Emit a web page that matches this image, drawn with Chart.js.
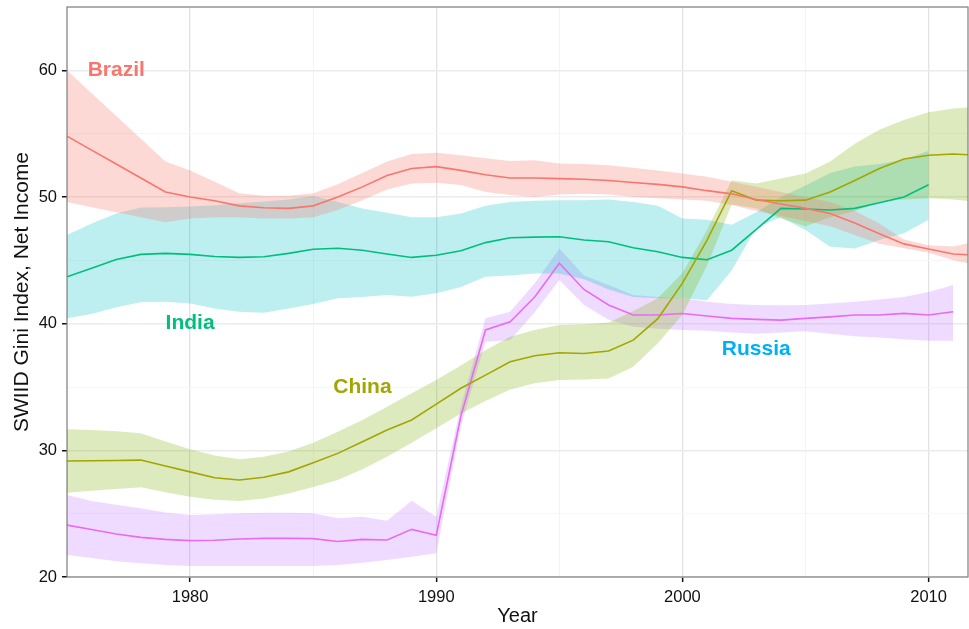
<!DOCTYPE html>
<html>
<head>
<meta charset="utf-8">
<script src="https://cdn.jsdelivr.net/npm/chart.js@4.4.1/dist/chart.umd.min.js"></script>
<style>
    html, body { margin: 0; padding: 0; background: #fff; }
    canvas { display: block; }
</style>
</head>
<body>
<canvas id="gini-chart" width="969" height="629"></canvas>
<script>
// Years on the x axis (annual estimates)
const years = [1975, 1976, 1977, 1978, 1979, 1980, 1981, 1982, 1983, 1984,
    1985, 1986, 1987, 1988, 1989, 1990, 1991, 1992, 1993, 1994,
    1995, 1996, 1997, 1998, 1999, 2000, 2001, 2002, 2003, 2004,
    2005, 2006, 2007, 2008, 2009, 2010, 2011, 2012];

// SWIID Gini (net income): estimate, upper and lower bound
const brazil = [54.8, 53.7, 52.6, 51.5, 50.4, 50.0, 49.7, 49.3, 49.15, 49.1,
    49.3, 50.0, 50.8, 51.7, 52.25, 52.4, 52.1, 51.75, 51.5, 51.5,
    51.45, 51.4, 51.3, 51.15, 51.0, 50.8, 50.5, 50.25, 49.8, 49.45,
    49.1, 48.7, 47.95, 47.1, 46.3, 45.9, 45.5, 45.4];
const brazilHi = [60.0, 58.2, 56.4, 54.6, 52.8, 52.1, 51.2, 50.3, 50.1, 50.1,
    50.3, 51.0, 51.9, 52.8, 53.4, 53.5, 53.3, 53.05, 52.85, 52.9,
    52.65, 52.6, 52.5, 52.3, 52.1, 51.86, 51.6, 51.2, 50.8, 50.4,
    50.0, 49.6, 48.9, 47.9, 46.65, 46.2, 46.1, 46.5];
const brazilLo = [49.6, 49.2, 48.8, 48.4, 48.0, 48.3, 48.4, 48.4, 48.3, 48.3,
    48.4, 48.97, 49.75, 50.6, 51.07, 51.12, 50.94, 50.4, 50.15, 50.0,
    50.2, 50.25, 50.2, 50.0, 49.9, 49.8, 49.7, 49.36, 48.9, 48.5,
    48.1, 47.7, 47.0, 46.3, 45.95, 45.6, 45.0, 44.6];

const india = [43.7, 44.37, 45.07, 45.47, 45.55, 45.47, 45.3, 45.23, 45.28, 45.55,
    45.87, 45.95, 45.8, 45.5, 45.23, 45.4, 45.75, 46.4, 46.78, 46.83,
    46.86, 46.6, 46.47, 46.0, 45.68, 45.23, 45.05, 45.8, 47.45, 49.1,
    49.05, 48.97, 49.1, 49.55, 50.0, 50.97, null, null];
const indiaHi = [47.0, 47.9, 48.7, 49.18, 49.2, 49.25, 49.35, 49.5, 49.65, 49.8,
    50.07, 49.6, 49.1, 48.75, 48.4, 48.4, 48.7, 49.3, 49.6, 49.7,
    49.75, 49.75, 49.8, 49.6, 49.3, 48.3, 48.2, 47.8, 48.8, 50.0,
    50.9, 51.9, 52.4, 52.6, 52.95, 53.65, null, null];
const indiaLo = [40.42, 40.76, 41.3, 41.7, 41.73, 41.6, 41.2, 40.94, 40.86, 41.2,
    41.55, 42.0, 42.1, 42.26, 42.13, 42.4, 42.9, 43.7, 43.8, 43.97,
    43.97, 43.5, 42.7, 42.1, 42.0, 42.0, 41.85, 44.2, 47.6, 48.4,
    47.4, 46.07, 45.94, 46.6, 47.13, 48.2, null, null];

const china = [29.16, 29.18, 29.2, 29.23, 28.76, 28.3, 27.84, 27.66, 27.87, 28.3,
    29.02, 29.76, 30.68, 31.6, 32.4, 33.65, 34.9, 35.94, 36.99, 37.47,
    37.7, 37.65, 37.84, 38.7, 40.4, 43.2, 46.6, 50.5, 49.75, 49.7,
    49.75, 50.4, 51.3, 52.25, 53.0, 53.3, 53.39, 53.3];
const chinaHi = [31.66, 31.6, 31.5, 31.34, 30.7, 30.08, 29.6, 29.29, 29.5, 29.9,
    30.6, 31.47, 32.4, 33.44, 34.5, 35.55, 36.7, 37.9, 38.97, 39.5,
    39.9, 39.95, 40.1, 41.0, 42.0, 44.0, 47.4, 51.33, 51.07, 51.47,
    51.86, 52.8, 54.2, 55.3, 56.07, 56.7, 56.99, 57.1];
const chinaLo = [26.65, 26.8, 26.95, 27.08, 26.7, 26.34, 26.1, 26.0, 26.2, 26.6,
    27.1, 27.66, 28.5, 29.5, 30.6, 31.74, 32.9, 33.9, 34.8, 35.3,
    35.55, 35.6, 35.68, 36.6, 38.45, 40.7, 44.6, 49.4, 49.1, 48.3,
    47.7, 48.4, 48.9, 49.6, 49.8, 49.9, 49.8, 49.6];

const russia = [24.1, 23.75, 23.4, 23.13, 22.97, 22.87, 22.9, 23.0, 23.05, 23.05,
    23.03, 22.8, 22.97, 22.92, 23.76, 23.3, 32.7, 39.5, 40.15, 42.1,
    44.77, 42.7, 41.47, 40.68, 40.68, 40.8, 40.6, 40.42, 40.34, 40.28,
    40.42, 40.54, 40.68, 40.68, 40.81, 40.68, 40.94, null];
const russiaHi = [26.47, 26.0, 25.7, 25.42, 25.1, 24.9, 24.95, 25.03, 25.07, 25.07,
    25.03, 24.63, 24.76, 24.44, 26.02, 24.76, 33.5, 40.42, 40.94, 43.2,
    45.94, 43.8, 43.05, 42.26, 42.1, 42.0, 41.73, 41.55, 41.47, 41.45,
    41.47, 41.6, 41.73, 41.9, 42.1, 42.5, 43.05, null];
const russiaLo = [21.74, 21.5, 21.25, 21.08, 20.95, 20.87, 20.87, 20.87, 20.87, 20.87,
    20.87, 20.95, 21.13, 21.34, 21.6, 21.87, 31.9, 38.57, 38.7, 40.9,
    43.44, 41.47, 40.3, 39.76, 39.6, 39.5, 39.45, 39.3, 39.2, 39.3,
    39.4, 39.2, 39.0, 38.9, 38.76, 38.65, 38.65, null];

// Direct labels placed in data coordinates
const labelNames = ["Brazil", "India", "China", "Russia"];
const labelYears = [1977, 1980, 1987, 2003];
const labelValues = [60, 40, 35, 38];
const labelColors = ["#F8766D", "#00BF7D", "#A3A500", "#00B0F6"];

const series = [
    { name: "Brazil", mid: brazil, hi: brazilHi, lo: brazilLo, line: "#F8766D", band: "rgba(248,118,109,0.28)" },
    { name: "China", mid: china, hi: chinaHi, lo: chinaLo, line: "#A3A500", band: "rgba(124,174,0,0.26)" },
    { name: "India", mid: india, hi: indiaHi, lo: indiaLo, line: "#00BF7D", band: "rgba(0,191,196,0.26)" },
    { name: "Russia", mid: russia, hi: russiaHi, lo: russiaLo, line: "#E76BF3", band: "rgba(199,124,255,0.28)" },
];

const toPoints = (vals) => years.map((y, i) => ({ x: y, y: vals[i] }));

const datasets = [];
// lines first so they sit on top (order 0)
series.forEach((s) => {
    datasets.push({
        label: s.name,
        data: toPoints(s.mid),
        borderColor: s.line,
        borderWidth: 1.6,
        pointRadius: 0,
        fill: false,
        tension: 0,
        order: 0,
        clip: 0,
    });
});
// bands: lower edge, then upper edge filled back to it
series.forEach((s) => {
    datasets.push({
        label: s.name + " lo",
        data: toPoints(s.lo),
        borderWidth: 0,
        borderColor: "rgba(0,0,0,0)",
        pointRadius: 0,
        fill: false,
        order: 1,
        clip: 0,
    });
    datasets.push({
        label: s.name + " hi",
        data: toPoints(s.hi),
        borderWidth: 0,
        borderColor: "rgba(0,0,0,0)",
        backgroundColor: s.band,
        pointRadius: 0,
        fill: "-1",
        order: 1,
        clip: 0,
    });
});

// text labels + panel border
const labelPlugin = {
    id: "countryLabels",
    afterDatasetsDraw: (chart) => {
        const { ctx, scales, chartArea } = chart;
        ctx.save();
        ctx.font = "bold 21px 'Liberation Sans', Arial, sans-serif";
        ctx.textAlign = "center";
        ctx.textBaseline = "middle";
        labelNames.forEach((name, i) => {
            ctx.fillStyle = labelColors[i];
            ctx.fillText(name, scales.x.getPixelForValue(labelYears[i]), scales.y.getPixelForValue(labelValues[i]));
        });
        ctx.strokeStyle = "#7f7f7f";
        ctx.lineWidth = 1.2;
        ctx.strokeRect(chartArea.left, chartArea.top, chartArea.right - chartArea.left, chartArea.bottom - chartArea.top);
        ctx.restore();
    },
};

const isMajor = (v) => Math.round(v) % 10 === 0;
const fontFamily = "'Liberation Sans', Arial, sans-serif";

const ctx = document.getElementById("gini-chart").getContext("2d");
new Chart(ctx, {
    type: "line",
    data: { datasets },
    options: {
        responsive: false,
        devicePixelRatio: 1,
        animation: false,
        layout: { padding: { top: 7, right: 1, left: 0, bottom: 0 } },
        plugins: {
            legend: { display: false },
            tooltip: { enabled: false },
        },
        scales: {
            x: {
                type: "linear",
                min: 1975,
                max: 2011.6,
                afterFit: (scale) => {
                    scale.height = 52;
                    scale.paddingLeft = 0;
                    scale.paddingRight = 0;
                },
                ticks: {
                    stepSize: 5,
                    includeBounds: false,
                    autoSkip: false,
                    maxRotation: 0,
                    padding: 6,
                    color: "#111",
                    font: { family: fontFamily, size: 16.5 },
                    callback: (v) => (isMajor(v) ? String(v) : ""),
                },
                grid: {
                    color: (c) => (c.tick && isMajor(c.tick.value) ? "#e2e2e2" : "#f4f4f4"),
                    lineWidth: (c) => (c.tick && isMajor(c.tick.value) ? 1.3 : 1),
                    tickColor: (c) => (c.tick && isMajor(c.tick.value) ? "#111" : "rgba(0,0,0,0)"),
                    tickLength: 5,
                    tickWidth: 1.5,
                },
                border: { display: false },
                title: {
                    display: true,
                    text: "Year",
                    color: "#111",
                    font: { family: fontFamily, size: 20 },
                    padding: { top: 0, bottom: 1 },
                },
            },
            y: {
                min: 20,
                max: 65,
                afterFit: (scale) => {
                    scale.width = 67;
                    scale.paddingTop = 0;
                    scale.paddingBottom = 0;
                },
                ticks: {
                    stepSize: 5,
                    padding: 5,
                    color: "#111",
                    font: { family: fontFamily, size: 16.5 },
                    callback: (v) => (isMajor(v) ? String(v) : ""),
                },
                grid: {
                    color: (c) => (c.tick && isMajor(c.tick.value) ? "#ebebeb" : "#f6f6f6"),
                    lineWidth: (c) => (c.tick && isMajor(c.tick.value) ? 1.5 : 1),
                    tickColor: (c) => (c.tick && isMajor(c.tick.value) ? "#111" : "rgba(0,0,0,0)"),
                    tickLength: 5,
                    tickWidth: 1.5,
                },
                border: { display: false },
                title: {
                    display: true,
                    text: "SWIID Gini Index, Net Income",
                    color: "#111",
                    font: { family: fontFamily, size: 21 },
                    padding: { top: 10, bottom: 0 },
                },
            },
        },
    },
    plugins: [labelPlugin],
});
</script>
</body>
</html>
